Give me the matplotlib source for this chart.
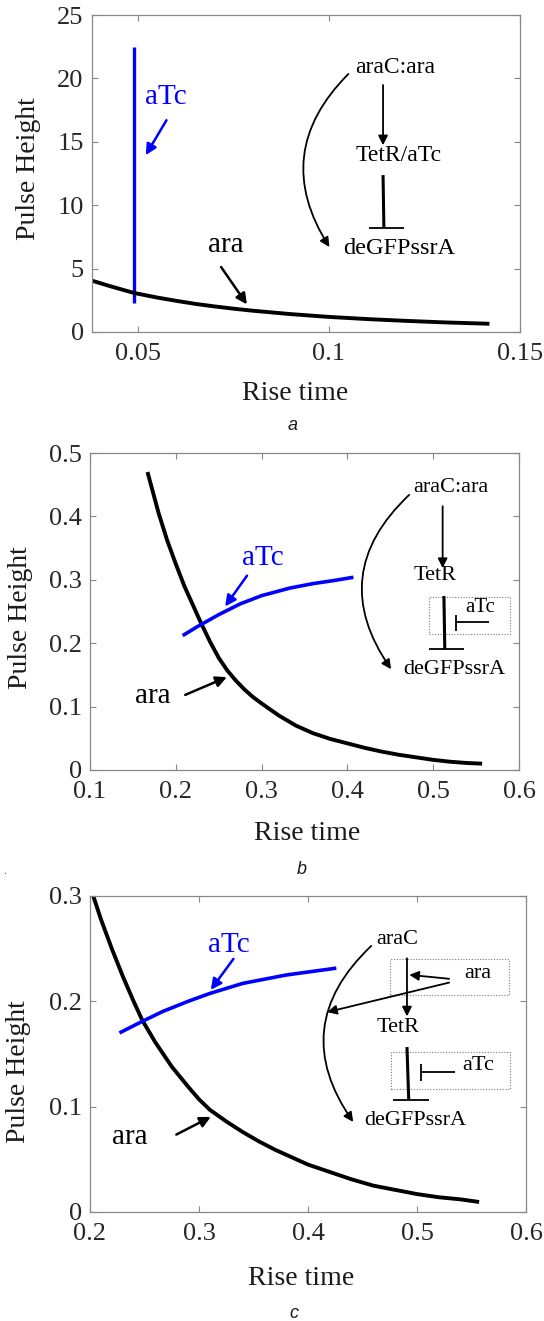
import matplotlib
matplotlib.use('Agg')
import matplotlib.pyplot as plt
from matplotlib.patches import Rectangle

plt.rcParams['font.family'] = 'serif'
plt.rcParams['font.serif'] = ['Liberation Serif', 'DejaVu Serif']

#%% Data

# panel a
a_ara_x = [0.038, 0.042, 0.045, 0.049, 0.055, 0.06, 0.065, 0.07, 0.075, 0.08, 0.09, 0.1, 0.11, 0.12, 0.13, 0.142]
a_ara_y = [4.05, 3.68, 3.42, 3.08, 2.72, 2.46, 2.22, 2.02, 1.84, 1.68, 1.41, 1.19, 1.02, 0.88, 0.76, 0.65]
a_atc_x = [0.049, 0.049]
a_atc_y = [2.3, 22.5]
a_xticks = [0.05, 0.1, 0.15]
a_yticks = [0, 5, 10, 15, 20, 25]

# panel b
b_ara_x = [0.167, 0.18, 0.19, 0.2, 0.21, 0.22, 0.229, 0.24, 0.25, 0.26, 0.27, 0.28, 0.29, 0.3,
           0.32, 0.34, 0.36, 0.38, 0.4, 0.42, 0.44, 0.46, 0.48, 0.5, 0.52, 0.54, 0.557]
b_ara_y = [0.47, 0.405, 0.362, 0.325, 0.29, 0.26, 0.233, 0.202, 0.177, 0.157, 0.141, 0.127, 0.115, 0.105,
           0.086, 0.07, 0.058, 0.049, 0.042, 0.035, 0.029, 0.024, 0.02, 0.016, 0.013, 0.011, 0.01]
b_atc_x = [0.208, 0.225, 0.25, 0.275, 0.3, 0.333, 0.36, 0.385, 0.407]
b_atc_y = [0.212, 0.226, 0.245, 0.262, 0.275, 0.287, 0.294, 0.299, 0.304]
b_xticks = [0.1, 0.2, 0.3, 0.4, 0.5, 0.6]
b_yticks = [0, 0.1, 0.2, 0.3, 0.4, 0.5]

# panel c
c_ara_x = [0.203, 0.21, 0.22, 0.23, 0.24, 0.248, 0.26, 0.275, 0.29, 0.3, 0.31, 0.325, 0.34, 0.355,
           0.37, 0.385, 0.4, 0.42, 0.44, 0.46, 0.48, 0.5, 0.52, 0.54, 0.557]
c_ara_y = [0.300, 0.278, 0.250, 0.224, 0.200, 0.182, 0.161, 0.138, 0.119, 0.107, 0.097, 0.086, 0.076, 0.067,
           0.059, 0.052, 0.045, 0.038, 0.031, 0.025, 0.021, 0.017, 0.014, 0.012, 0.0095]
c_atc_x = [0.227, 0.248, 0.267, 0.29, 0.31, 0.34, 0.38, 0.426]
c_atc_y = [0.170, 0.181, 0.1905, 0.200, 0.2075, 0.217, 0.225, 0.2315]
c_xticks = [0.2, 0.3, 0.4, 0.5, 0.6]
c_yticks = [0, 0.1, 0.2, 0.3]

BLUE = '#0000ff'
GREY = '#888888'


def style_axes(ax, xlim, ylim, xticks, yticks, xlab_pos, ylab_pos):
    ax.set_xlim(xlim)
    ax.set_ylim(ylim)
    ax.set_xticks(xticks)
    ax.set_yticks(yticks)
    ax.set_xticklabels(['%g' % t for t in xticks])
    ax.set_yticklabels(['%g' % t for t in yticks])
    ax.tick_params(direction='in', top=True, right=True, length=4, width=0.8,
                   color=GREY, labelsize=19, labelcolor='#262626')
    ax.tick_params(axis='x', pad=8)
    ax.tick_params(axis='y', pad=6)
    for s in ax.spines.values():
        s.set_color(GREY)
        s.set_linewidth(0.9)
    ax.set_xlabel('Rise time', fontsize=20, color='#1a1a1a')
    ax.set_ylabel('Pulse Height', fontsize=20, color='#1a1a1a')
    ax.xaxis.set_label_coords(*xlab_pos)
    ax.yaxis.set_label_coords(*ylab_pos)


def arrow(ax, start, end, color='black', lw=1.3, rad=0.0, ms=14):
    ax.annotate('', xy=end, xytext=start, xycoords='axes fraction', textcoords='axes fraction',
                arrowprops=dict(arrowstyle='-|>', color=color, lw=lw, mutation_scale=ms,
                                shrinkA=0, shrinkB=0, connectionstyle='arc3,rad=%g' % rad))


def line(ax, xs, ys, lw=1.3):
    ax.plot(xs, ys, color='black', lw=lw, transform=ax.transAxes, clip_on=False, solid_capstyle='butt')


def dotted_box(ax, x0, y0, x1, y1):
    ax.add_patch(Rectangle((x0, y0), x1 - x0, y1 - y0, transform=ax.transAxes, fill=False,
                           ec='#777777', lw=0.8, ls=(0, (1, 1.5))))


curve_kw = dict(solid_joinstyle='round', solid_capstyle='butt')

fig = plt.figure(figsize=(5.44, 13.21), dpi=100)

#%% Panel a
ax = fig.add_axes([92 / 544, 1 - 332 / 1321, 428 / 544, 317 / 1321])
ax.plot(a_atc_x, a_atc_y, color=BLUE, lw=2.4, **curve_kw)
ax.plot(a_ara_x, a_ara_y, color='black', lw=2.8, **curve_kw)
style_axes(ax, (0.038, 0.15), (0, 25), a_xticks, a_yticks, (0.475, -0.155), (-0.118, 0.516))

ax.text(0.172, 0.742, 'aTc', color=BLUE, fontsize=21, ha='center', va='center', transform=ax.transAxes)
arrow(ax, (0.174, 0.668), (0.1255, 0.558), color=BLUE, lw=1.8, ms=16)
ax.text(0.312, 0.276, 'ara', fontsize=21, ha='center', va='center', transform=ax.transAxes)
arrow(ax, (0.3016, 0.205), (0.362, 0.087), lw=1.8, ms=16)

# network diagram
ax.text(0.708, 0.834, 'araC:ara', fontsize=17, ha='center', va='center', transform=ax.transAxes)
arrow(ax, (0.680, 0.779), (0.680, 0.589))
ax.text(0.717, 0.558, 'TetR/aTc', fontsize=17, ha='center', va='center', transform=ax.transAxes)
line(ax, [0.680, 0.682], [0.495, 0.328], lw=2.2)
line(ax, [0.648, 0.729], [0.328, 0.328])
ax.text(0.717, 0.262, 'deGFPssrA', fontsize=17.5, ha='center', va='center', transform=ax.transAxes)
arrow(ax, (0.599, 0.814), (0.5547, 0.268), rad=0.4)

#%% Panel b
ax = fig.add_axes([90 / 544, 1 - 770 / 1321, 429 / 544, 317 / 1321])
ax.plot(b_ara_x, b_ara_y, color='black', lw=2.8, **curve_kw)
ax.plot(b_atc_x, b_atc_y, color=BLUE, lw=2.6, **curve_kw)
style_axes(ax, (0.1, 0.6), (0, 0.5), b_xticks, b_yticks, (0.507, -0.161), (-0.133, 0.481))

ax.text(0.402, 0.668, 'aTc', color=BLUE, fontsize=21, ha='center', va='center', transform=ax.transAxes)
arrow(ax, (0.366, 0.613), (0.315, 0.516), color=BLUE, lw=1.8, ms=16)
ax.text(0.1455, 0.232, 'ara', fontsize=21, ha='center', va='center', transform=ax.transAxes)
arrow(ax, (0.222, 0.237), (0.319, 0.293), lw=1.8, ms=16)

ax.text(0.842, 0.892, 'araC:ara', fontsize=16, ha='center', va='center', transform=ax.transAxes)
arrow(ax, (0.822, 0.832), (0.822, 0.637))
ax.text(0.804, 0.612, 'TetR', fontsize=16, ha='center', va='center', transform=ax.transAxes)
dotted_box(ax, 0.791, 0.429, 0.980, 0.547)
line(ax, [0.825, 0.827], [0.549, 0.381], lw=2.2)
line(ax, [0.791, 0.871], [0.381, 0.381])
ax.text(0.909, 0.513, 'aTc', fontsize=15, ha='center', va='center', transform=ax.transAxes)
line(ax, [0.930, 0.853], [0.468, 0.468])
line(ax, [0.853, 0.853], [0.437, 0.489])
ax.text(0.849, 0.316, 'deGFPssrA', fontsize=16, ha='center', va='center', transform=ax.transAxes)
arrow(ax, (0.744, 0.868), (0.702, 0.318), rad=0.43)

#%% Panel c
ax = fig.add_axes([90 / 544, 1 - 1212 / 1321, 436 / 544, 316 / 1321])
ax.plot(c_ara_x, c_ara_y, color='black', lw=2.8, **curve_kw)
ax.plot(c_atc_x, c_atc_y, color=BLUE, lw=2.6, **curve_kw)
style_axes(ax, (0.2, 0.6), (0, 0.3), c_xticks, c_yticks, (0.485, -0.171), (-0.135, 0.445))

ax.text(0.319, 0.845, 'aTc', color=BLUE, fontsize=21, ha='center', va='center', transform=ax.transAxes)
arrow(ax, (0.329, 0.801), (0.277, 0.703), color=BLUE, lw=1.8, ms=16)
ax.text(0.092, 0.238, 'ara', fontsize=21, ha='center', va='center', transform=ax.transAxes)
arrow(ax, (0.198, 0.245), (0.277, 0.301), lw=1.8, ms=16)

ax.text(0.7045, 0.863, 'araC', fontsize=16, ha='center', va='center', transform=ax.transAxes)
dotted_box(ax, 0.689, 0.687, 0.961, 0.800)
arrow(ax, (0.727, 0.803), (0.727, 0.619))
ax.text(0.8896, 0.755, 'ara', fontsize=16, ha='center', va='center', transform=ax.transAxes)
arrow(ax, (0.8237, 0.738), (0.7323, 0.7505))
arrow(ax, (0.8237, 0.726), (0.544, 0.6326))
ax.text(0.707, 0.585, 'TetR', fontsize=16, ha='center', va='center', transform=ax.transAxes)
dotted_box(ax, 0.691, 0.389, 0.964, 0.505)
line(ax, [0.727, 0.731], [0.522, 0.356], lw=2.2)
line(ax, [0.695, 0.7776], [0.356, 0.356])
ax.text(0.891, 0.463, 'aTc', fontsize=16, ha='center', va='center', transform=ax.transAxes)
line(ax, [0.838, 0.7585], [0.442, 0.442])
line(ax, [0.7585, 0.7585], [0.414, 0.468])
ax.text(0.7466, 0.289, 'deGFPssrA', fontsize=16, ha='center', va='center', transform=ax.transAxes)
arrow(ax, (0.645, 0.842), (0.6037, 0.285), rad=0.43)

#%% Panel captions
for lab, x, y in [('a', 293, 425), ('b', 302, 870), ('c', 294, 1313)]:
    fig.text(x / 544, 1 - y / 1321, lab, fontsize=13, style='italic', family='Liberation Sans',
             ha='center', va='center', color='#1a1a1a')
# stray dot left of caption b in the source
fig.text(5 / 544, 1 - 872 / 1321, '.', fontsize=8, color='#555555', ha='center', va='center')

fig.savefig('out.png', dpi=100)
